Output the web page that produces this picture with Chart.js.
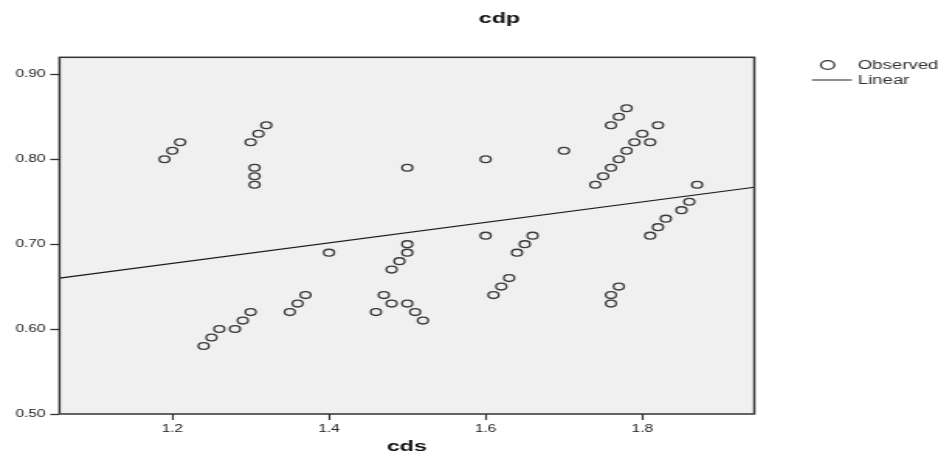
<!DOCTYPE html>
<html><head><meta charset="utf-8">
<script src="https://cdn.jsdelivr.net/npm/chart.js@4.4.1/dist/chart.umd.min.js"></script>
<style>
html,body{margin:0;padding:0;background:#fff;overflow:hidden}
#wrap{width:938px;height:456px;overflow:hidden}
#c{display:block;transform:scaleX(1.550413);transform-origin:0 0}
</style></head><body>
<div id="wrap"><canvas id="c" width="605" height="456" style="width:605px;height:456px"></canvas></div>
<script>
const chartTitle = 'cdp';
const xAxisTitle = 'cds';
const legendLabels = ['Observed', 'Linear'];

const cds = [1.19,1.20,1.21,1.30,1.31,1.32,1.305,1.305,1.305,
  1.24,1.25,1.26,1.28,1.29,1.30,1.35,1.36,1.37,1.40,
  1.50,1.60,1.70,1.60,1.66,1.65,1.64,1.50,1.50,1.49,1.48,
  1.63,1.62,1.61,1.47,1.48,1.50,1.46,1.51,1.52,
  1.78,1.77,1.76,1.82,1.80,1.79,1.81,1.78,1.77,1.76,1.75,1.74,
  1.87,1.86,1.85,1.83,1.82,1.81,1.77,1.76,1.76];
const cdp = [0.80,0.81,0.82,0.82,0.83,0.84,0.79,0.78,0.77,
  0.58,0.59,0.60,0.60,0.61,0.62,0.62,0.63,0.64,0.69,
  0.79,0.80,0.81,0.71,0.71,0.70,0.69,0.70,0.69,0.68,0.67,
  0.66,0.65,0.64,0.64,0.63,0.63,0.62,0.62,0.61,
  0.86,0.85,0.84,0.84,0.83,0.82,0.82,0.81,0.80,0.79,0.78,0.77,
  0.77,0.75,0.74,0.73,0.72,0.71,0.65,0.64,0.63];

const xTicks = [1.2, 1.4, 1.6, 1.8];
const yTicks = [0.50, 0.60, 0.70, 0.80, 0.90];
const xRange = [1.056, 1.943];
const yRange = [0.50, 0.92];
const fitX = [1.056, 1.943];
const fitY = [0.660, 0.767];

const S = 938 / 605;
Chart.defaults.font.family = '"Liberation Sans", Arial, sans-serif';
Chart.defaults.color = '#222';

const decor = {
  id: 'decor',
  beforeDraw(chart) {
    const {ctx, chartArea: a} = chart;
    ctx.save();
    ctx.fillStyle = '#ffffff';
    ctx.fillRect(0, 0, chart.width, chart.height);
    ctx.fillStyle = '#f0f0f0';
    ctx.fillRect(a.left, a.top, a.right - a.left, a.bottom - a.top);
    ctx.restore();
  },
  afterDraw(chart) {
    const {ctx, chartArea: a} = chart;
    ctx.save();
    ctx.strokeStyle = '#333';
    ctx.lineWidth = 1.5;
    ctx.strokeRect(a.left, a.top, a.right - a.left, a.bottom - a.top);
    // title
    ctx.fillStyle = '#111';
    ctx.font = 'bold 15px "Liberation Sans", Arial, sans-serif';
    ctx.textAlign = 'center';
    ctx.textBaseline = 'alphabetic';
    ctx.fillText(chartTitle, 499.5 / S, 22.7);
    // legend
    ctx.strokeStyle = '#333';
    ctx.lineWidth = 1.3;
    ctx.beginPath();
    ctx.arc(827.7 / S, 65, 4.4, 0, Math.PI * 2);
    ctx.stroke();
    ctx.lineWidth = 1.1;
    ctx.beginPath();
    ctx.moveTo(811.7 / S, 80);
    ctx.lineTo(851.7 / S, 80);
    ctx.stroke();
    ctx.fillStyle = '#333';
    ctx.font = '12px "Liberation Sans", Arial, sans-serif';
    ctx.textAlign = 'left';
    ctx.fillText(legendLabels[0], 857.7 / S, 69.3);
    ctx.fillText(legendLabels[1], 857.7 / S, 84.2);
    ctx.restore();
  }
};

new Chart(document.getElementById('c'), {
  type: 'scatter',
  data: {
    datasets: [
      {
        label: legendLabels[0],
        data: cds.map((x, i) => ({x: x, y: cdp[i]})),
        pointStyle: 'circle',
        pointRadius: 3.4,
        pointHoverRadius: 3.4,
        borderWidth: 1.3,
        borderColor: '#3a3a3a',
        backgroundColor: 'rgba(0,0,0,0)'
      },
      {
        type: 'line',
        label: legendLabels[1],
        data: fitX.map((x, i) => ({x: x, y: fitY[i]})),
        showLine: true,
        pointRadius: 0,
        borderColor: '#1a1a1a',
        borderWidth: 1.2,
        fill: false
      }
    ]
  },
  options: {
    responsive: false,
    animation: false,
    layout: {padding: {left: 0, right: 605 - 754.3 / S, top: 57.3, bottom: 0}},
    plugins: {legend: {display: false}, title: {display: false}, tooltip: {enabled: false}},
    scales: {
      x: {
        type: 'linear',
        min: xRange[0], max: xRange[1],
        afterBuildTicks: ax => { ax.ticks = xTicks.map(v => ({value: v})); },
        afterFit: ax => { ax.height = 42; },
        border: {display: false},
        grid: {drawOnChartArea: false, drawTicks: true, tickLength: 6, tickColor: '#333', tickWidth: 1.2},
        ticks: {padding: 3, font: {size: 10}, color: '#222', callback: v => Number(v).toFixed(1), maxRotation: 0},
        title: {display: true, text: xAxisTitle, font: {size: 15, weight: 'bold'}, color: '#111', padding: {top: 0, bottom: 0}}
      },
      y: {
        type: 'linear',
        min: yRange[0], max: yRange[1],
        afterBuildTicks: ax => { ax.ticks = yTicks.map(v => ({value: v})); },
        afterFit: ax => { ax.width = 59.5 / S; },
        border: {display: false},
        grid: {drawOnChartArea: false, drawTicks: true, tickLength: 6, tickColor: '#333', tickWidth: 1.3},
        ticks: {padding: 3, font: {size: 10}, color: '#222', callback: v => Number(v).toFixed(2)}
      }
    }
  },
  plugins: [decor]
});
</script>
</body></html>
